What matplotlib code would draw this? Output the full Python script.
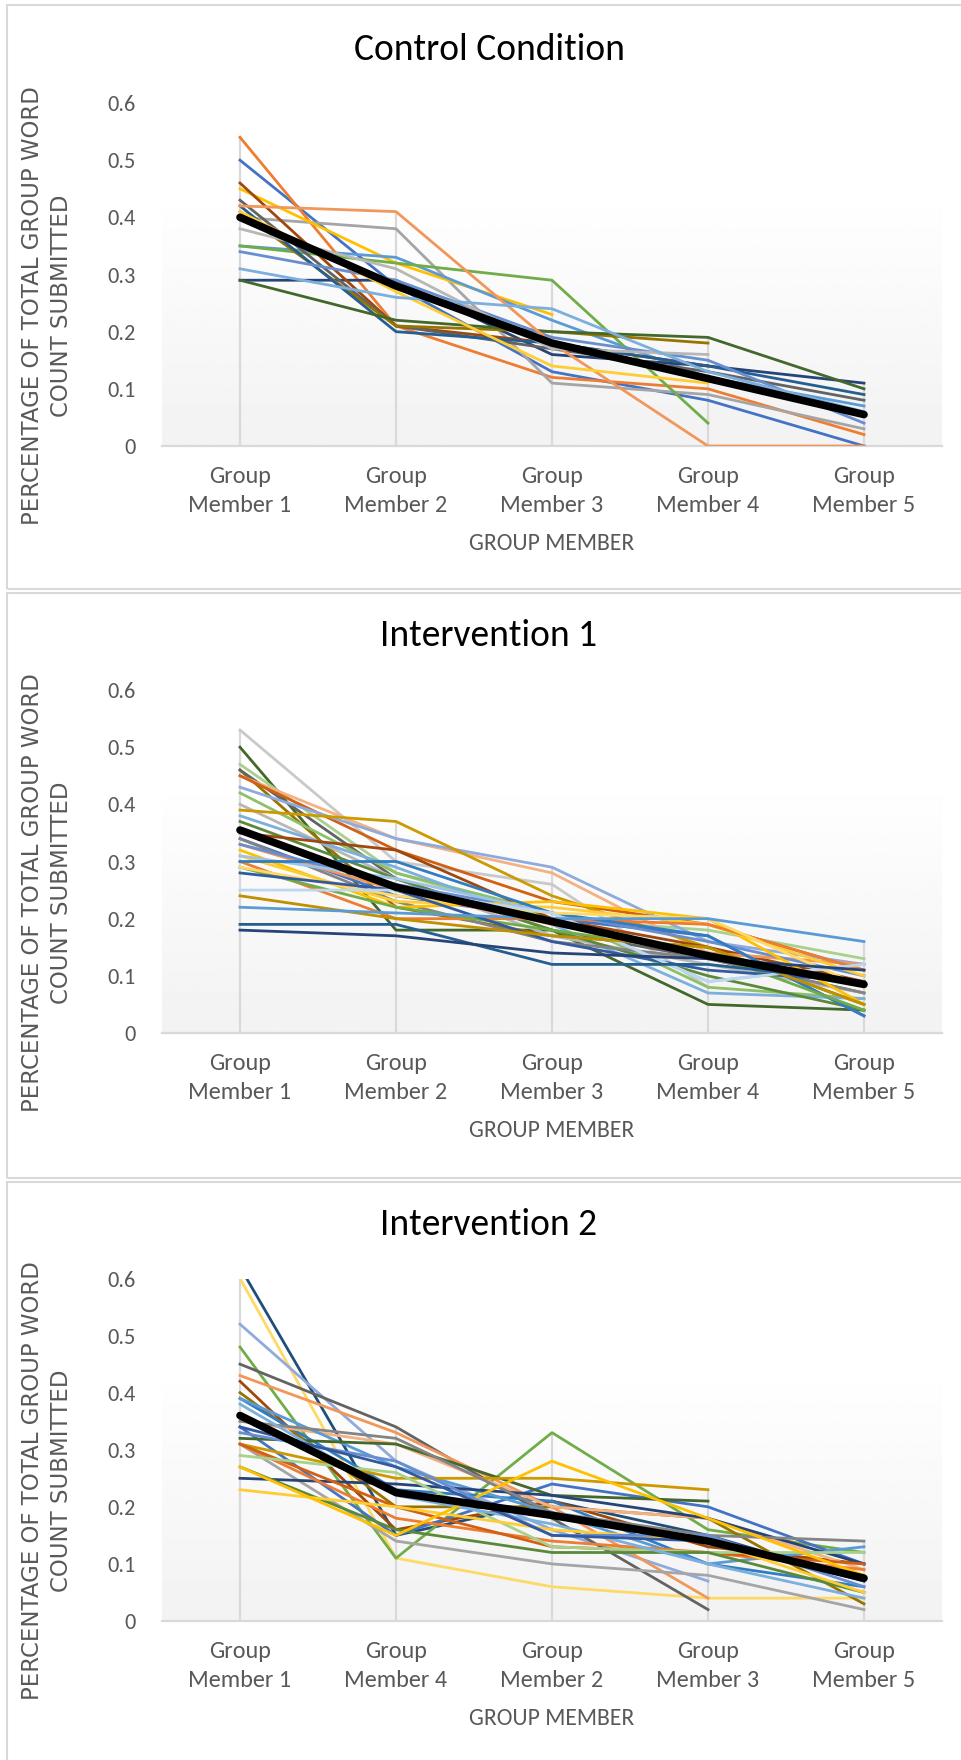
import numpy as np
import matplotlib
matplotlib.use("Agg")
import matplotlib.pyplot as plt
from matplotlib import font_manager
from matplotlib.patches import Rectangle
from matplotlib.transforms import blended_transform_factory

# ---- data ----
members_std = ["Member 1", "Member 2", "Member 3", "Member 4", "Member 5"]
members_int2 = ["Member 1", "Member 4", "Member 2", "Member 3", "Member 5"]
y_ticks = [0, 0.1, 0.2, 0.3, 0.4, 0.5, 0.6]
titles = ["Control Condition", "Intervention 1", "Intervention 2"]

control_series = [
    [0.50, 0.28, 0.13, 0.08, 0.00],
    [0.54, 0.21, 0.12, 0.10, 0.02],
    [0.40, 0.38, 0.11, 0.09, 0.03],
    [0.45, 0.32, 0.23, None, None],
    [0.35, 0.33, 0.22, 0.12, 0.07],
    [0.35, 0.32, 0.29, 0.04, None],
    [0.29, 0.29, 0.16, 0.14, 0.11],
    [0.46, 0.21, 0.18, 0.14, None],
    [0.43, 0.21, 0.17, 0.13, 0.08],
    [0.41, 0.21, 0.20, 0.18, None],
    [0.42, 0.20, 0.18, 0.14, 0.09],
    [0.29, 0.22, 0.20, 0.19, 0.10],
    [0.34, 0.29, 0.19, 0.15, 0.04],
    [0.42, 0.41, 0.18, 0.00, 0.00],
    [0.38, 0.31, 0.17, 0.16, None],
    [0.41, 0.27, 0.14, 0.11, None],
    [0.31, 0.26, 0.24, 0.13, 0.06],
]
control_colors = ["#4472C4", "#ED7D31", "#A5A5A5", "#FFC000", "#5B9BD5", "#70AD47",
                  "#264478", "#9E480E", "#636363", "#997300", "#255E91", "#43682B",
                  "#698ED0", "#F1975A", "#B7B7B7", "#FFCD33", "#7CAFDD"]
control_avg = [0.40, 0.28, 0.18, 0.118, 0.055]

int1_series = [
    [0.53, 0.30, 0.26, 0.08, None],
    [0.50, 0.18, 0.18, 0.05, 0.04],
    [0.47, 0.28, 0.20, 0.18, 0.13],
    [0.46, 0.22, 0.17, 0.15, 0.05],
    [0.46, 0.27, 0.18, 0.13, 0.07],
    [0.45, 0.34, 0.28, 0.14, 0.12],
    [0.45, 0.32, 0.23, 0.19, 0.11],
    [0.43, 0.34, 0.29, 0.16, 0.12],
    [0.42, 0.28, 0.21, 0.08, 0.06],
    [0.40, 0.27, 0.17, 0.12, 0.07],
    [0.39, 0.37, 0.24, 0.15, 0.05],
    [0.38, 0.29, 0.19, 0.07, 0.06],
    [0.37, 0.27, 0.18, 0.10, 0.04],
    [0.35, 0.32, 0.20, 0.15, 0.09],
    [0.34, 0.24, 0.20, 0.17, 0.03],
    [0.34, 0.23, 0.16, 0.13, 0.07],
    [0.33, 0.25, 0.19, 0.14, 0.12],
    [0.33, 0.26, 0.21, 0.16, 0.10],
    [0.32, 0.22, 0.23, 0.20, 0.05],
    [0.31, 0.23, 0.22, 0.19, 0.10],
    [0.31, 0.27, 0.21, 0.09, 0.12],
    [0.30, 0.20, 0.20, 0.19, 0.11],
    [0.30, 0.30, 0.21, 0.17, 0.03],
    [0.29, 0.22, 0.18, 0.14, 0.04],
    [0.29, 0.24, 0.21, 0.20, 0.08],
    [0.28, 0.25, 0.16, 0.11, 0.09],
    [0.25, 0.25, 0.21, 0.09, 0.12],
    [0.24, 0.20, 0.17, 0.15, 0.05],
    [0.22, 0.21, 0.20, 0.20, 0.16],
    [0.19, 0.19, 0.12, 0.12, 0.09],
    [0.18, 0.17, 0.14, 0.13, 0.11],
]
int1_colors = ["#C9C9C9", "#43682B", "#A9D18E", "#997300", "#636363", "#F4B183",
               "#D26012", "#8FAADC", "#8CC168", "#B7B7B7", "#CC9A00", "#7CAFDD",
               "#5A8A39", "#9E480E", "#4472C4", "#848484", "#F1975A", "#698ED0",
               "#FFC000", "#FFCD33", "#9DC3E6", "#ED7D31", "#327DC2", "#70AD47",
               "#FFD966", "#335AA1", "#BDD7EE", "#BF9000", "#5B9BD5", "#255E91",
               "#264478"]
int1_avg = [0.355, 0.255, 0.195, 0.135, 0.085]

int2_series = [
    [0.62, 0.15, 0.21, 0.15, 0.07],
    [0.60, 0.11, 0.06, 0.04, 0.04],
    [0.52, 0.28, 0.16, 0.07, None],
    [0.48, 0.11, 0.33, 0.16, 0.12],
    [0.45, 0.34, 0.18, 0.02, None],
    [0.43, 0.33, 0.20, 0.04, None],
    [0.42, 0.16, 0.21, 0.13, 0.10],
    [0.40, 0.20, 0.20, 0.18, 0.03],
    [0.34, 0.15, 0.24, 0.20, 0.10],
    [0.39, 0.23, 0.21, 0.10, 0.06],
    [0.31, 0.14, 0.10, 0.08, 0.02],
    [0.35, 0.31, 0.20, 0.18, 0.09],
    [0.39, 0.27, 0.19, 0.10, 0.13],
    [0.32, 0.31, 0.22, 0.21, None],
    [0.31, 0.25, 0.25, 0.23, None],
    [0.25, 0.24, 0.22, 0.18, 0.10],
    [0.35, 0.32, 0.19, 0.15, 0.14],
    [0.31, 0.18, 0.14, 0.12, 0.09],
    [0.31, 0.20, 0.13, 0.12, 0.10],
    [0.29, 0.26, 0.13, 0.12, 0.12],
    [0.27, 0.16, 0.12, 0.12, 0.05],
    [0.38, 0.22, 0.17, 0.10, 0.04],
    [0.23, 0.20, 0.16, 0.14, 0.05],
    [0.27, 0.15, 0.28, 0.18, 0.08],
    [0.33, 0.28, 0.15, 0.15, 0.06],
    [0.34, 0.27, 0.15, 0.14, 0.07],
]
int2_colors = ["#1F4E79", "#FFD966", "#8FAADC", "#70AD47", "#636363", "#F1975A",
               "#9E480E", "#997300", "#4472C4", "#327DC2", "#A5A5A5", "#F4B183",
               "#5B9BD5", "#43682B", "#CC9A00", "#264478", "#848484", "#ED7D31",
               "#D26012", "#A9D18E", "#5A8A39", "#7CAFDD", "#FFCD33", "#FFC000",
               "#698ED0", "#335AA1"]
int2_avg = [0.36, 0.225, 0.185, 0.14, 0.075]

# ---- layout (pixels of the 962x1760 canvas) ----
W, H = 962, 1760
AX_L, AX_R = 162, 942
panel_axes = [(103, 446), (690, 1033), (1278.5, 1621)]   # top (0.6) / bottom (0)
panel_boxes = [(5, 589), (593, 1178), (1182, 1800)]


def pick(*names):
    avail = {f.name for f in font_manager.fontManager.ttflist}
    for n in names:
        if n in avail:
            return n
    return "DejaVu Sans"


FONT = pick("Carlito", "Lato", "DejaVu Sans")
YFONT = pick("DejaVu Sans")
SERIF = pick("Liberation Serif", "DejaVu Serif")
GRAY = "#595959"
GRID = "#d9d9d9"


def fx(px):
    return px / W


def fy(py):
    return 1 - py / H


fig = plt.figure(figsize=(W / 100, H / 100), dpi=100)
fig.patch.set_facecolor("white")

# caption of the page, cut off by the top edge (only descenders show)
fig.text(fx(-12), fy(-8), "Figure 3. Individual group participation proportions by condition "
         "(with average percentage of group word count)",
         fontsize=15, family=SERIF, style="italic", va="baseline", ha="left")


def draw_panel(i, series, colors, avg, members):
    top, bot = panel_axes[i]
    ax = fig.add_axes([fx(AX_L), fy(bot), (AX_R - AX_L) / W, (bot - top) / H])
    ax.set_facecolor("none")
    x = np.arange(len(members))
    data = np.array(series, dtype=float)
    avg = np.array(avg, dtype=float)

    # plot-area gradient
    t = np.linspace(0, 1, 256)
    level = 0.949 + 0.051 * np.clip(t / 0.75, 0, 1)
    ax.imshow(level[:, None], cmap="gray", vmin=0, vmax=1, origin="lower",
              extent=(-0.5, 4.5, 0, 0.6), aspect="auto", zorder=0)

    # drop lines + baseline
    tops = np.nanmax(np.vstack([data, avg]), axis=0)
    ax.vlines(x, 0, np.minimum(tops, 0.6), color=GRID, lw=1.6, zorder=1)
    ax.axhline(0, color=GRID, lw=1.6, zorder=1, clip_on=False)

    for vals, c in zip(data, colors):
        ax.plot(x, vals, color=c, lw=2.0, zorder=2)
    ax.plot(x, avg, color="black", lw=5.5, solid_capstyle="round", zorder=3)

    ax.set_xlim(-0.5, 4.5)
    ax.set_ylim(0, 0.6)
    for s in ax.spines.values():
        s.set_visible(False)
    ax.set_xticks([])
    ax.set_yticks(y_ticks)
    ax.set_yticklabels([f"{v:g}" for v in y_ticks], family=FONT, fontsize=16, color=GRAY)
    ax.tick_params(axis="y", length=0, pad=19)

    tr = blended_transform_factory(ax.transData, fig.transFigure)
    for k, m in enumerate(members):
        ax.text(k, fy(bot + 30), "Group", transform=tr, ha="center", va="center",
                family=FONT, fontsize=17.5, color=GRAY)
        ax.text(k, fy(bot + 59.5), m, transform=tr, ha="center", va="center",
                family=FONT, fontsize=17.5, color=GRAY)

    fig.text(fx(552), fy(bot + 97.5), "GROUP MEMBER", ha="center", va="center",
             family=FONT, fontsize=17, color=GRAY)
    fig.text(fx(489), fy(top - 54), titles[i], ha="center", va="center",
             family=FONT, fontsize=27, color="black")

    yc = (top + bot) / 2 + 31
    fig.text(fx(33), fy(yc), "PERCENTAGE OF TOTAL GROUP WORD", rotation=90,
             ha="center", va="center", family=YFONT, fontsize=16.5, color=GRAY)
    fig.text(fx(62), fy(yc), "COUNT SUBMITTED", rotation=90,
             ha="center", va="center", family=YFONT, fontsize=16.5, color=GRAY)

    b0, b1 = panel_boxes[i]
    fig.add_artist(Rectangle((fx(7), fy(b1)), 1.2, (b1 - b0) / H, transform=fig.transFigure,
                             fill=False, ec=GRID, lw=1.5))


draw_panel(0, control_series, control_colors, control_avg, members_std)
draw_panel(1, int1_series, int1_colors, int1_avg, members_std)
draw_panel(2, int2_series, int2_colors, int2_avg, members_int2)

fig.savefig("out.png", dpi=100)
